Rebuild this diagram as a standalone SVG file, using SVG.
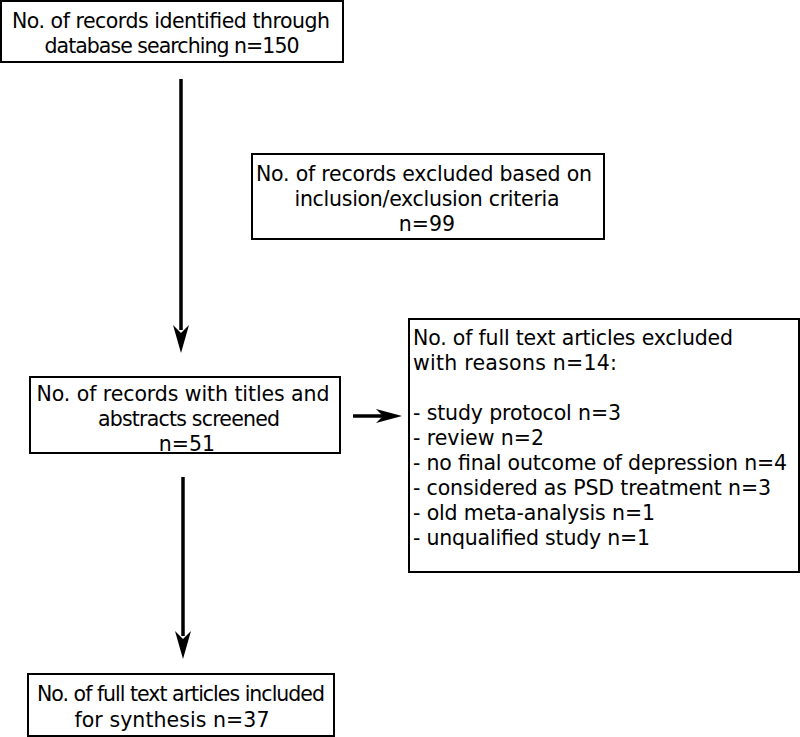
<svg xmlns="http://www.w3.org/2000/svg" width="800" height="737" viewBox="0 0 800 737">
<style>
.box{fill:#fff;stroke:#000;stroke-width:2}
.t{font-family:"DejaVu Sans",Verdana,sans-serif;font-size:20.5px;fill:#000}
.c{text-anchor:middle}
.ln{stroke:#000;stroke-width:3.5;fill:none}
.hd{fill:#000}
</style>
<rect width="800" height="737" fill="#fff"/>
<g id="n1">
<rect class="box" x="1" y="1" width="342" height="61"/>
<text class="t c" x="171" y="28" textLength="318">No. of records identified through</text>
<text class="t c" x="172" y="53" textLength="255">database searching n=150</text>
</g>
<g id="n2">
<rect class="box" x="252" y="154" width="352" height="85"/>
<text class="t c" x="424" y="181" textLength="336">No. of records excluded based on</text>
<text class="t c" x="427" y="206" textLength="265">inclusion/exclusion criteria</text>
<text class="t c" x="427" y="231">n=99</text>
</g>
<g id="n3">
<rect class="box" x="30" y="377" width="310" height="76"/>
<text class="t c" x="183" y="401" textLength="293">No. of records with titles and</text>
<text class="t c" x="189" y="426" textLength="182">abstracts screened</text>
<text class="t c" x="187" y="451">n=51</text>
</g>
<g id="n4">
<rect class="box" x="409" y="319" width="390" height="253"/>
<text class="t" x="413" y="345" textLength="320">No. of full text articles excluded</text>
<text class="t" x="413" y="370" textLength="204">with reasons n=14:</text>
<text class="t" x="413" y="420" textLength="208">- study protocol n=3</text>
<text class="t" x="413" y="445" textLength="131">- review n=2</text>
<text class="t" x="413" y="470" textLength="374">- no final outcome of depression n=4</text>
<text class="t" x="413" y="495" textLength="358">- considered as PSD treatment n=3</text>
<text class="t" x="413" y="520" textLength="242">- old meta-analysis n=1</text>
<text class="t" x="413" y="545" textLength="237">- unqualified study n=1</text>
</g>
<g id="n5">
<rect class="box" x="28" y="674" width="306" height="62"/>
<text class="t c" x="181" y="701" textLength="288">No. of full text articles included</text>
<text class="t c" x="172" y="727" textLength="195">for synthesis n=37</text>
</g>
<g id="connectors">
<line class="ln" x1="181" y1="79" x2="181" y2="330"/>
<path class="hd" d="M181,353 L173,325 L181,333 L189,325 Z"/>
<line class="ln" x1="183" y1="477" x2="183" y2="636"/>
<path class="hd" d="M183,659 L175,631 L183,639 L191,631 Z"/>
<line class="ln" x1="353" y1="416" x2="384" y2="416"/>
<path class="hd" d="M402,416 L376,409 L383,416 L376,423 Z"/>
</g>
</svg>
